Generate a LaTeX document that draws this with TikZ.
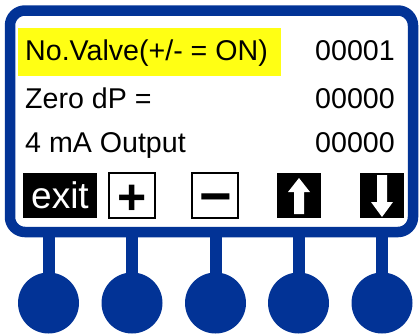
\documentclass[tikz,border=0pt]{standalone}
\usepackage{fontspec}
\setmainfont{Liberation Sans}
\usepackage{tikz}
\definecolor{panelblue}{RGB}{2,51,150}
\definecolor{hlyellow}{RGB}{255,255,20}
\tikzset{
    panel/.style={draw=panelblue, line width=10.5pt, rounded corners=15pt,
    	fill=white, inner sep=0pt}
}
\tikzset{
    lbl/.style={inner sep=0pt, font=\fontsize{28.6}{30}\selectfont}
}
\tikzset{
    key/.style={inner sep=0pt, minimum height=45pt},
    blackkey/.style={key, fill=black, text=white},
    whitekey/.style={key, draw, line width=1.3pt, minimum width=46pt},
    sign/.style={inner sep=0pt, anchor=base}
}
\tikzset{
    knob/.style={circle, fill=panelblue, minimum size=61pt, inner sep=0pt},
    stem/.style={draw=panelblue, line width=12pt}
}
\pgfdeclarelayer{background}
\pgfsetlayers{background,main}

\begin{document}
\begin{tikzpicture}[x=1pt, y=-1pt]
	\useasboundingbox (0,0) rectangle (420,333);
	\node (panel) [panel, minimum width=403pt, minimum height=221.5pt] at (211.5,121.25) {};
	\node (hl) [fill=hlyellow, inner sep=0pt, minimum width=263pt, minimum height=48pt,
		anchor=north west] at (18,28) {};
	
	\node (l1) [lbl, anchor=base west] at (25,60) {No.Valve(+/- = ON)};
	\node (l2) [lbl, anchor=base west] at (25,108) {Zero dP =};
	\node (l3) [lbl, anchor=base west] at (25,152) {4 mA Output};
	\node (v1) [lbl, anchor=base west] at (315,60) {00001};
	\node (v2) [lbl, anchor=base west] at (315,108) {00000};
	\node (v3) [lbl, anchor=base west] at (315,152) {00000};
	
	\node (exit) [blackkey, minimum width=74pt, font=\fontsize{37}{40}\selectfont] at (60,195.5) {exit};
	\node (plus) [whitekey] at (132,195.5) {};
	\node (minus) [whitekey] at (215,195.5) {};
	\node (plussign) [sign, font=\fontsize{50}{52}\selectfont\bfseries] at (132,214.5) {+};
	\node (minussign) [sign, font=\fontsize{56}{58}\selectfont\bfseries] at (215.5,215.5) {−};
	\node (up) [blackkey, minimum width=44pt] at (299,195.5) {};
	\node (down) [blackkey, minimum width=44pt] at (382,195.5) {};
	\fill[white, shift={(up.center)}] (0,-17.5) -- (11,-3.5) -- (5,-3.5) -- (5,18.5)
		-- (-5,18.5) -- (-5,-3.5) -- (-11,-3.5) -- cycle;
	\fill[white, shift={(down.center)}] (0,21.5) -- (11,6.5) -- (5,6.5) -- (5,-20.5)
		-- (-5,-20.5) -- (-5,6.5) -- (-11,6.5) -- cycle;
	
	\node (k1) [knob] at ( 48.5, 303) {};
	\node (k2) [knob] at (132.0, 303) {};
	\node (k3) [knob] at (215.5, 303) {};
	\node (k4) [knob] at (298.5, 303) {};
	\node (k5) [knob] at (382.0, 303) {};
	
	\begin{pgfonlayer}{background}
		\draw[stem] (k1.center) -- (k1.center |- panel.south);
		\draw[stem] (k2.center) -- (k2.center |- panel.south);
		\draw[stem] (k3.center) -- (k3.center |- panel.south);
		\draw[stem] (k4.center) -- (k4.center |- panel.south);
		\draw[stem] (k5.center) -- (k5.center |- panel.south);
	\end{pgfonlayer}
\end{tikzpicture}
\end{document}
